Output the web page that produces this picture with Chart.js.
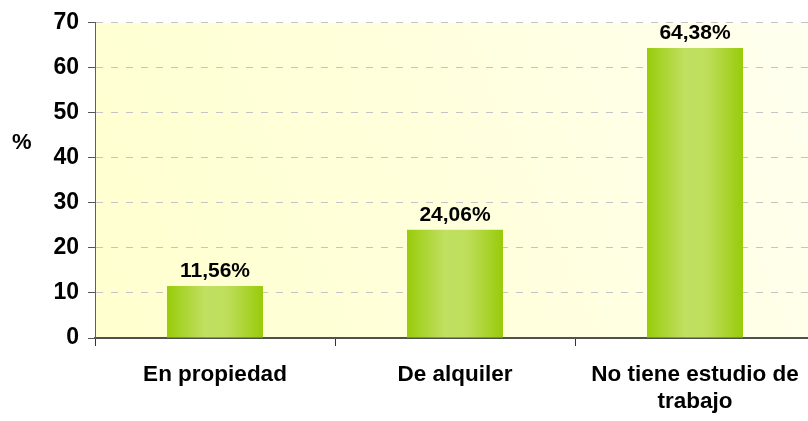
<!DOCTYPE html>
<html>
<head>
<meta charset="utf-8">
<script src="https://cdn.jsdelivr.net/npm/chart.js@4"></script>
<style>
  html, body { margin: 0; padding: 0; background: #fff; overflow: hidden; }
  #wrap { width: 820px; height: 421px; }
</style>
</head>
<body>
<div id="wrap"><canvas id="chart" width="820" height="421"></canvas></div>
<script>
// data
const categories = ['En propiedad', 'De alquiler', ['No tiene estudio de', 'trabajo']];
const percentages = [11.56, 24.06, 64.38];
const valueLabels = ['11,56%', '24,06%', '64,38%'];
const yTicks = [0, 10, 20, 30, 40, 50, 60, 70];

const FONT = "'Liberation Sans', Arial, sans-serif";

// yellow panel behind the bars
const panelBg = {
    id: 'panelBg',
    beforeDraw(chart) {
        const { ctx, chartArea: a } = chart;
        const g = ctx.createLinearGradient(a.left, a.bottom, a.right, a.top);
        g.addColorStop(0, '#FFFFCF');
        g.addColorStop(0.5, '#FFFFDD');
        g.addColorStop(1, '#FFFFF0');
        ctx.save();
        ctx.fillStyle = g;
        ctx.fillRect(a.left, a.top, a.right - a.left, a.bottom - a.top);
        ctx.restore();
    }
};

// value labels over bars + the "%" unit
const labelsPlugin = {
    id: 'labelsPlugin',
    afterDatasetsDraw(chart) {
        const { ctx } = chart;
        const meta = chart.getDatasetMeta(0);
        ctx.save();
        ctx.font = 'bold 21px ' + FONT;
        ctx.fillStyle = '#000';
        ctx.textAlign = 'center';
        ctx.textBaseline = 'alphabetic';
        meta.data.forEach((bar, i) => {
            ctx.fillText(valueLabels[i], bar.x, bar.y - 9);
        });
        ctx.font = 'bold 22px ' + FONT;
        ctx.textAlign = 'left';
        ctx.textBaseline = 'middle';
        ctx.fillText('%', 12, 143);
        ctx.restore();
    }
};

function barGradient(context) {
    const chart = context.chart;
    const x = chart.scales.x;
    if (!chart.chartArea || !x) return '#A8D42A';
    const cx = x.getPixelForValue(context.dataIndex);
    const w = (x.width / categories.length) * 0.4;
    const g = chart.ctx.createLinearGradient(cx - w / 2, 0, cx + w / 2, 0);
    g.addColorStop(0, '#99CC0A');
    g.addColorStop(0.4, '#C0E062');
    g.addColorStop(0.62, '#BEDE5C');
    g.addColorStop(1, '#99CB0A');
    return g;
}

new Chart(document.getElementById('chart'), {
    type: 'bar',
    data: {
        labels: categories,
        datasets: [{
            data: percentages,
            backgroundColor: barGradient,
            borderWidth: 0,
            categoryPercentage: 0.4,
            barPercentage: 1
        }]
    },
    options: {
        responsive: false,
        animation: false,
        layout: { padding: { top: 22, right: 5, left: 0, bottom: 0 } },
        plugins: {
            legend: { display: false },
            tooltip: { enabled: false }
        },
        scales: {
            x: {
                offset: true,
                grid: {
                    offset: true,
                    drawOnChartArea: false,
                    drawTicks: true,
                    tickLength: 8,
                    color: '#333'
                },
                border: { color: '#505050', width: 2 },
                ticks: {
                    color: '#000',
                    padding: 15,
                    font: { family: FONT, size: 22.5, weight: 'bold', lineHeight: 1.2 }
                },
                afterFit(scale) { scale.height = 83; }
            },
            y: {
                min: 0,
                max: 70,
                afterBuildTicks(scale) { scale.ticks = yTicks.map(v => ({ value: v })); },
                grid: {
                    color: (c) => c.tick && c.tick.value === 0 ? 'rgba(0,0,0,0)' : '#C4C4C4',
                    tickColor: '#555',
                    tickLength: 7,
                    lineWidth: 1
                },
                border: { color: '#606060', width: 1, dash: [7, 8] },
                ticks: {
                    color: '#000',
                    padding: 9,
                    font: { family: FONT, size: 23, weight: 'bold' }
                },
                afterFit(scale) { scale.width = 95; }
            }
        }
    },
    plugins: [panelBg, labelsPlugin]
});
</script>
</body>
</html>
